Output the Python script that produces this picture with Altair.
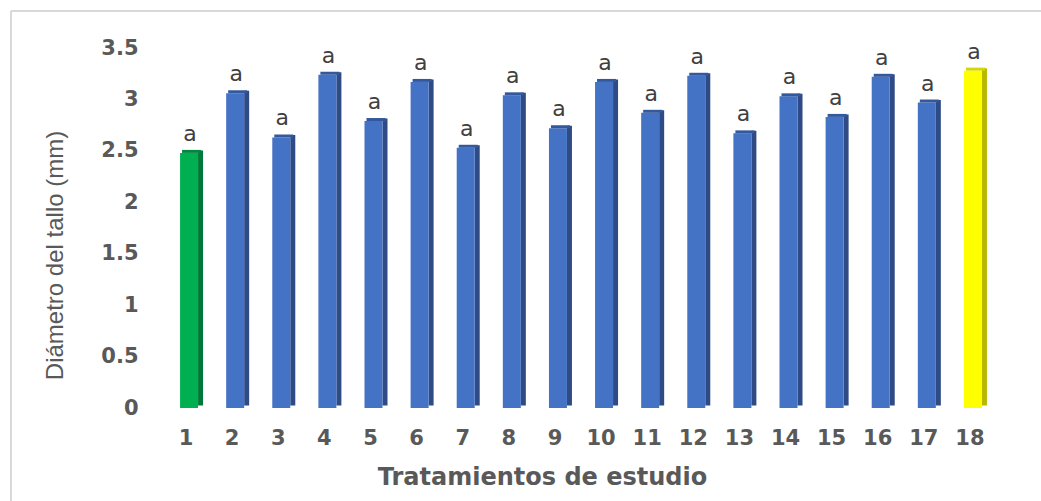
import altair as alt
import pandas as pd

tratamientos = [str(i) for i in range(1, 19)]
diametro = [2.48, 3.06, 2.63, 3.24, 2.79, 3.17, 2.53, 3.04, 2.72,
            3.17, 2.87, 3.23, 2.67, 3.03, 2.83, 3.22, 2.97, 3.28]
letras = ["a"] * 18
grupo = ["verde"] + ["azul"] * 16 + ["amarillo"]
y_ticks = [0, 0.5, 1, 1.5, 2, 2.5, 3, 3.5]

df = pd.DataFrame({"trat": tratamientos, "diam": diametro,
                   "letra": letras, "grupo": grupo})

W, H = 830, 360
PL, PT = 163, 48
FONT = "DejaVu Sans"
GRAY = "#595959"

gdom = ["verde", "azul", "amarillo"]
front_rng = ["#00B050", "#4472C4", "#FFFF00"]
side_rng = ["#00783A", "#2E4B86", "#B8B800"]
top_rng = ["#00873F", "#34589C", "#D6D600"]

xenc = alt.X("trat:N", sort=tratamientos,
             scale=alt.Scale(paddingInner=0.5, paddingOuter=0.25),
             axis=alt.Axis(title="Tratamientos de estudio", labelAngle=0,
                           labelFont=FONT, labelFontSize=21, labelFontWeight="bold",
                           labelColor=GRAY, labelPadding=19, ticks=False, domain=False,
                           titleFont=FONT, titleFontSize=24, titleFontWeight="bold",
                           titleColor=GRAY, titlePadding=17, titleX=379))
yenc = alt.Y("diam:Q", scale=alt.Scale(domain=[0, 3.5]),
             axis=alt.Axis(title="Diámetro del tallo (mm)", values=y_ticks, format="~g",
                           labelFont=FONT, labelFontSize=21, labelFontWeight="bold",
                           labelColor=GRAY, labelPadding=25, ticks=False, domain=False, grid=False,
                           titleFont="Liberation Sans", titleFontSize=24, titleFontWeight="normal",
                           titleColor=GRAY, titleX=-108, titleY=207, titleBaseline="middle",
                           titleAlign="center", titleAngle=-90))

base = alt.Chart(df)

side = base.mark_bar(width=5, xOffset=14.5, yOffset=-2.5).encode(
    x=xenc, y=yenc,
    color=alt.Color("grupo:N", scale=alt.Scale(domain=gdom, range=side_rng), legend=None))
front = base.mark_bar(width=18, xOffset=3).encode(
    x=xenc, y=yenc,
    color=alt.Color("grupo:N", scale=alt.Scale(domain=gdom, range=front_rng), legend=None))
top = base.mark_tick(size=19, thickness=3, xOffset=5.5, yOffset=-1.5, opacity=1).encode(
    x=xenc, y=yenc,
    color=alt.Color("grupo:N", scale=alt.Scale(domain=gdom, range=top_rng), legend=None))
text = base.mark_text(baseline="alphabetic", dy=-12, xOffset=4, font=FONT, fontSize=22,
                      color="#404040").encode(x=xenc, y=yenc, text="letra:N")

border_top = alt.Chart(df).mark_rule(color="#D9D9D9", strokeWidth=2).encode(
    x=alt.value(-152), x2=alt.value(1041 - PL), y=alt.value(-37))
border_left = alt.Chart(df).mark_rule(color="#D9D9D9", strokeWidth=2).encode(
    x=alt.value(-152), y=alt.value(-37), y2=alt.value(501 - PT))

chart = alt.layer(border_top, border_left, side, front, top, text).resolve_scale(
    color="independent"
).properties(
    width=W, height=H,
    autosize=alt.AutoSizeParams(type="none"),
    padding={"left": PL, "top": PT, "right": 1041 - PL - W, "bottom": 501 - PT - H},
    background="white",
).configure_view(stroke=None)

chart.save("out.html", embed_options={"renderer": "svg", "actions": False})
